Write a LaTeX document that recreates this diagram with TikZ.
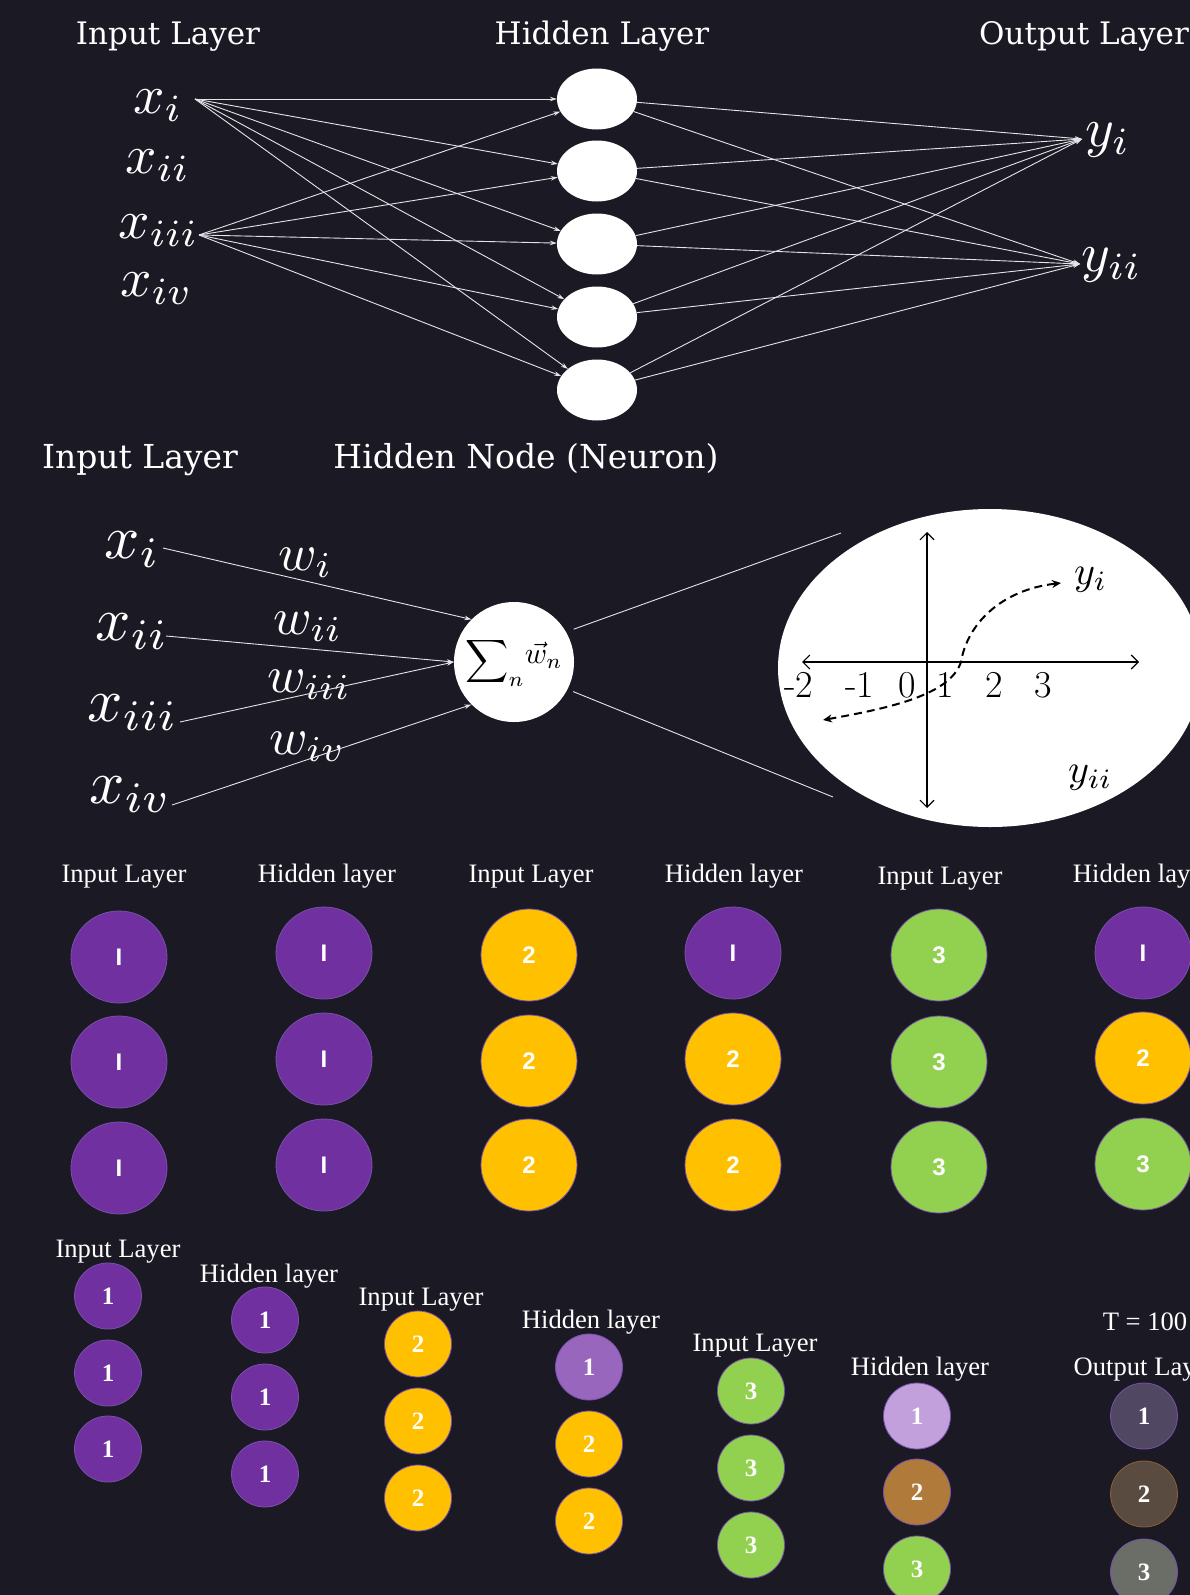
\documentclass[tikz,border=0pt]{standalone}
\usepackage{fontspec}
\newfontfamily\topfont{DejaVu Serif}
\newfontfamily\labfont{Liberation Serif}
\newfontfamily\numsans{Liberation Sans}
\usetikzlibrary{arrows.meta,shapes.geometric}
\definecolor{bg}{RGB}{27,26,36}
\definecolor{ppl}{RGB}{112,48,160}
\definecolor{org}{RGB}{255,192,0}
\definecolor{grn}{RGB}{146,208,80}
\definecolor{lav}{RGB}{153,102,190}
\definecolor{ltlav}{RGB}{194,160,220}
\definecolor{brn}{RGB}{176,122,58}
\definecolor{dkA}{RGB}{80,72,98}
\definecolor{dkB}{RGB}{90,75,64}
\definecolor{dkC}{RGB}{106,110,102}
\definecolor{ring}{RGB}{120,80,170}
\definecolor{brring}{RGB}{140,95,50}
\definecolor{lnc}{RGB}{228,228,232}
\newcommand\sclm[2]{\scalebox{#1}{$#2$}}
\begin{document}
\begin{tikzpicture}[x=1pt,y=-1pt,
  conn/.style={draw=lnc, line width=0.9pt, -{Stealth[length=7pt,width=4.5pt]}},
  plainln/.style={draw=lnc, line width=0.9pt},
  hid/.style={ellipse, fill=white, minimum width=80pt, minimum height=61pt, inner sep=0pt},
  toplab/.style={text=white, anchor=base, inner sep=0pt, font=\topfont\fontsize{31}{31}\selectfont},
  midlab/.style={text=white, anchor=base, inner sep=0pt, font=\topfont\fontsize{33}{33}\selectfont},
  lab/.style={text=white, anchor=base, inner sep=0pt, font=\labfont\fontsize{26.6}{27}\selectfont},
  mth/.style={text=white, anchor=base west, inner sep=0pt},
  mthC/.style={text=black, anchor=base west, inner sep=0pt},
  tick/.style={text=black, anchor=base, inner sep=0pt, font=\fontsize{38}{40}\selectfont},
  axisln/.style={draw=black, line width=1.1pt, {Straight Barb[length=7pt,width=14pt]}-{Straight Barb[length=7pt,width=14pt]}},
  bigc/.style={ellipse, draw=ring, line width=0.8pt, minimum width=96pt, minimum height=92pt, inner sep=0pt, text=white, font=\numsans\bfseries\fontsize{24}{24}\selectfont},
  smc/.style={ellipse, draw=ring, line width=0.8pt, minimum width=67pt, minimum height=66pt, inner sep=0pt, text=white, font=\labfont\bfseries\fontsize{25}{25}\selectfont}
]
\fill[bg] (0,0) rectangle (1190,1595);
\useasboundingbox (0,0) rectangle (1190,1595);

% ---------- section 1 ----------
\node[toplab] (t1) at (168,45) {Input Layer};
\node[toplab] (t2) at (602,45) {Hidden Layer};
\node[toplab] (t3) at (1084,45) {Output Layer};
\node[mth] (x1) at (133,113) {\sclm{5.5}{x_i}};
\node[mth] (x2) at (125,173) {\sclm{5.5}{x_{ii}}};
\node[mth] (x3) at (118,238) {\sclm{5.5}{x_{iii}}};
\node[mth] (x4) at (120,296) {\sclm{5.5}{x_{iv}}};
\coordinate (x1o) at (195,99);
\coordinate (x3o) at (199,235);
\foreach \k/\yy in {1/99,2/171,3/244,4/317,5/390}
  \node[hid] (h\k) at (597,\yy) {};
\node[mth] (y1) at (1085,146) {\sclm{5.5}{y_i}};
\node[mth] (y2) at (1081,271) {\sclm{5.5}{y_{ii}}};
\coordinate (y1i) at (1082,139);
\coordinate (y2i) at (1080,264);
\foreach \k in {1,...,5} {
  \draw[conn] (x1o) -- (h\k);
  \draw[conn] (x3o) -- (h\k);
  \draw[conn] (h\k) -- (y1i);
  \draw[conn] (h\k) -- (y2i);
}

% ---------- section 2 ----------
\node[midlab] (m1) at (140,468) {Input Layer};
\node[midlab] (m2) at (526,468) {Hidden Node (Neuron)};
\node[mth] (a1) at (104,558) {\sclm{6.2}{x_i}};
\node[mth] (a2) at (95,640) {\sclm{6.2}{x_{ii}}};
\node[mth] (a3) at (87,721) {\sclm{6.2}{x_{iii}}};
\node[mth] (a4) at (89,803) {\sclm{6.2}{x_{iv}}};
\node[mth] (w1) at (278,570) {\sclm{5.2}{w_i}};
\node[mth] (w2) at (273,634) {\sclm{5.2}{w_{ii}}};
\node[mth] (w3) at (267,692) {\sclm{5.2}{w_{iii}}};
\node[mth] (w4) at (269,754) {\sclm{5.2}{w_{iv}}};
\node[circle, fill=white, minimum size=120pt, inner sep=0pt] (sig) at (514,662) {\sclm{3}{\displaystyle\sum\nolimits_n\!\raisebox{1.6pt}{$\vec{w}_n$}}};
\coordinate (a1o) at (163,548);
\coordinate (a2o) at (166,636);
\coordinate (a3o) at (180,722);
\coordinate (a4o) at (172,805);
\draw[conn] (a1o) -- (sig.135);
\draw[conn] (a2o) -- (sig.180);
\draw[conn] (a3o) -- (sig.180);
\draw[conn] (a4o) -- (sig.225);
\node[ellipse, fill=white, minimum width=424pt, minimum height=318pt, inner sep=0pt] (plt) at (990,668) {};
\coordinate (eA) at (841,533);
\coordinate (eB) at (833,797);
\draw[plainln, shorten <=8pt] (sig.30) -- (eA);
\draw[plainln, shorten <=6pt] (sig.-27) -- (eB);
\draw[axisln] (927,808) -- (927,532);
\draw[axisln] (802,662) -- (1139,662);
\node[tick] (tk1) at (798.5,697) {-2};
\node[tick] (tk2) at (859.5,697) {-1};
\node[tick] (tk3) at (907.5,697) {0};
\node[tick] (tk4) at (945,697) {1};
\node[tick] (tk5) at (994.5,697) {2};
\node[tick] (tk6) at (1043.5,697) {3};
\draw[black, line width=2pt, dash pattern=on 8pt off 5pt, {Stealth[length=9pt,width=8pt]}-{Stealth[length=9pt,width=8pt]}]
  (823,720) .. controls (890,708) and (950,695) .. (961,662)
  .. controls (967,625) and (1000,590) .. (1061,583);
\node[mthC] (py1) at (1074,584) {\sclm{4}{y_i}};
\node[mthC] (py2) at (1068,782) {\sclm{4}{y_{ii}}};

% ---------- section 3 ----------
\node[lab] (s1) at (124,882) {Input Layer};
\node[lab] (s2) at (327,882) {Hidden layer};
\node[lab] (s3) at (531,882) {Input Layer};
\node[lab] (s4) at (734,882) {Hidden layer};
\node[lab] (s5) at (940,884) {Input Layer};
\node[lab] (s6) at (1142,882) {Hidden layer};
\foreach \n/\xx/\yy/\cc/\tt in {
  c11/119/957/ppl/I, c12/119/1062/ppl/I, c13/119/1168/ppl/I,
  c21/324/953/ppl/I, c22/324/1059/ppl/I, c23/324/1165/ppl/I,
  c31/529/955/org/2, c32/529/1061/org/2, c33/529/1165/org/2,
  c41/733/953/ppl/I, c42/733/1059/org/2, c43/733/1165/org/2,
  c51/939/955/grn/3, c52/939/1062/grn/3, c53/939/1167/grn/3,
  c61/1143/953/ppl/I, c62/1143/1058/org/2, c63/1143/1164/grn/3}
  \node[bigc, fill=\cc] (\n) at (\xx,\yy) {\tt};

% ---------- section 4 ----------
\node[lab] (u1) at (118,1257) {Input Layer};
\node[lab] (u2) at (269,1282) {Hidden layer};
\node[lab] (u3) at (421,1305) {Input Layer};
\node[lab] (u4) at (591,1328) {Hidden layer};
\node[lab] (u5) at (755,1351) {Input Layer};
\node[lab] (u6) at (920,1375) {Hidden layer};
\node[lab] (u7) at (1145,1330) {T = 100};
\node[lab] (u8) at (1145,1375) {Output Layer};
\foreach \n/\xx/\yy/\cc/\tt in {
  d11/108/1296/ppl/1, d12/108/1373/ppl/1, d13/108/1449/ppl/1,
  d21/265/1320/ppl/1, d22/265/1397/ppl/1, d23/265/1474/ppl/1,
  d31/418/1344/org/2, d32/418/1421/org/2, d33/418/1498/org/2,
  d41/589/1367/lav/1, d42/589/1444/org/2, d43/589/1521/org/2,
  d51/751/1391/grn/3, d52/751/1468/grn/3, d53/751/1545/grn/3,
  d61/917/1416/ltlav/1, d62/917/1492/brn/2, d63/917/1569/grn/3,
  d71/1144/1416/dkA/1, d73/1144/1572/dkC/3}
  \node[smc, fill=\cc] (\n) at (\xx,\yy) {\tt};
\node[smc, fill=dkB, draw=brring] (d72) at (1144,1494) {2};
\end{tikzpicture}
\end{document}
